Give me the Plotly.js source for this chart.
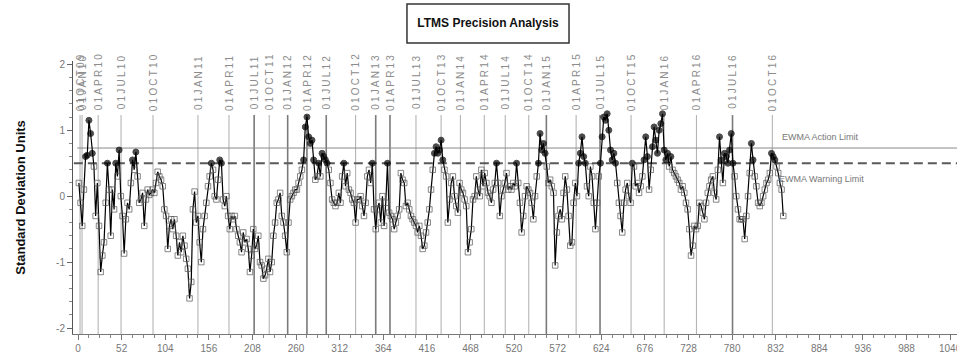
<!DOCTYPE html>
<html>
<head>
<meta charset="utf-8">
<script src="https://cdn.plot.ly/plotly-3.0.1.min.js"></script>
<style>
  html, body { margin: 0; padding: 0; background: #fff; }
  #chart { width: 957px; height: 355px; }
</style>
</head>
<body>
<div id="chart"></div>
<script>
// EWMA of standardized LTMS results, one value for every second test in sequence
const firstTest = 1;
const testStep = 2;
const ewma = [
  0.2,-0.1,-0.45,0.1,0.6,0.62,1.15,0.95,0.65,0.45,-0.3,0.2,-0.45,-1.15,-0.9,-0.7,-0.1,0.5,0.1,-0.6,
  0.1,-0.2,0.5,0.3,0.7,0.0,-0.3,-0.87,-0.35,-0.1,-0.2,0.2,0.55,0.4,0.67,0.3,-0.1,-0.05,0.05,-0.45,
  -0.05,0.1,0.02,0.05,0.1,0.05,0.2,0.37,0.3,0.25,0.15,-0.2,-0.3,-0.8,-0.45,-0.35,-0.5,-0.35,-0.6,-0.9,
  -0.7,-0.85,-0.6,-0.75,-0.95,-1.1,-1.55,-1.3,-0.2,0.07,-0.4,-0.3,-0.7,-1.0,-0.5,-0.3,-0.1,0.15,0.3,0.5,
  0.4,0.0,-0.05,0.25,0.55,0.5,-0.05,-0.15,0.0,-0.3,-0.5,-0.3,-0.35,-0.3,-0.5,-0.6,-0.7,-0.85,-0.55,-0.7,
  -0.65,-0.8,-1.15,-0.9,-0.5,-0.8,-0.75,-0.6,-1.0,-1.05,-1.25,-1.2,-1.1,-0.95,-1.15,-1.0,-0.6,-0.4,-0.1,-0.05,
  0.05,-0.3,-0.4,-0.6,-0.85,-0.4,-0.05,0.0,0.05,0.1,0.1,0.2,0.3,0.4,0.55,1.05,1.2,0.9,0.8,0.85,
  0.55,0.25,0.3,0.5,0.3,0.65,0.6,0.55,0.5,0.4,0.2,-0.05,-0.1,-0.15,-0.1,0.05,-0.1,0.3,0.5,0.15,
  0.35,0.1,0.05,-0.05,-0.1,-0.4,-0.05,-0.05,0.0,-0.15,-0.3,-0.1,0.3,0.4,0.2,0.5,-0.2,-0.5,-0.2,-0.1,
  -0.4,0.0,-0.45,-0.1,0.5,-0.25,-0.3,-0.35,-0.5,-0.4,-0.3,-0.2,0.35,0.25,0.2,-0.15,-0.1,-0.2,-0.3,-0.35,
  -0.4,-0.45,-0.55,-0.45,-0.6,-0.8,-0.75,-0.55,-0.4,-0.2,0.1,0.4,0.65,0.75,0.65,0.7,0.85,0.55,0.4,0.3,
  -0.4,-0.05,0.2,0.3,0.0,-0.15,-0.25,0.2,0.1,0.05,-0.05,-0.15,-0.85,-0.7,-0.5,-0.05,0.0,0.3,0.1,0.0,
  0.4,0.15,0.35,0.2,0.05,0.0,-0.1,0.1,0.2,0.5,0.2,-0.3,0.0,0.1,0.2,0.35,0.1,0.15,0.1,0.2,
  0.15,0.5,0.2,-0.1,-0.55,-0.3,0.0,0.15,0.1,0.05,-0.1,-0.35,0.0,0.3,0.5,0.95,0.7,0.8,0.65,0.45,
  0.2,0.25,0.15,0.05,-1.05,-0.55,-0.3,-0.2,-0.35,0.05,0.3,0.1,-0.3,-0.75,-0.7,-0.1,0.2,0.0,0.5,0.65,
  0.9,0.6,0.5,0.15,0.0,0.45,0.3,-0.1,-0.5,-0.1,0.3,0.5,0.9,1.2,1.15,1.25,1.0,0.7,0.55,0.65,
  0.5,0.2,-0.1,-0.3,-0.55,-0.1,0.1,0.2,0.0,-0.1,0.5,0.45,0.15,0.2,0.05,0.15,0.3,0.55,0.9,0.6,
  0.1,0.4,0.75,1.05,0.85,0.65,1.0,1.1,1.25,0.7,0.55,0.65,0.45,0.6,0.4,0.35,0.3,0.25,0.2,0.1,
  0.15,0.05,-0.1,-0.2,-0.5,-0.9,-0.75,-0.45,-0.5,-0.45,-0.1,-0.15,-0.25,-0.35,-0.1,0.05,0.15,0.25,0.3,0.05,
  -0.05,0.4,0.9,0.55,0.2,0.65,0.6,0.5,0.7,0.95,0.5,0.3,0.0,-0.2,-0.35,-0.35,-0.35,-0.65,-0.3,0.0,
  0.35,0.8,0.55,0.3,0.15,-0.1,-0.15,-0.1,0.0,0.1,0.2,0.25,0.35,0.65,0.6,0.55,0.45,0.35,0.2,0.1,-0.3
];

// Quarter boundaries: label, test number, and whether the line is drawn heavy
const quarterLabels = ["01OCT09","01JAN10","01APR10","01JUL10","01OCT10","01JAN11","01APR11","01JUL11",
  "01OCT11","01JAN12","01APR12","01JUL12","01OCT12","01JAN13","01APR13","01JUL13","01OCT13","01JAN14",
  "01APR14","01JUL14","01OCT14","01JAN15","01APR15","01JUL15","01OCT15","01JAN16","01APR16","01JUL16","01OCT16"];
const quarterTests = [2.4,4.8,24,51.3,89.4,143,180,210,228,250,273,296,331,355,372,403,433,456,484.5,
  509.5,537.5,558.5,594,622.5,659.5,699,737.5,780.5,828];
const quarterHeavy = [0,0,0,0,0,0,0,1,0,1,1,1,0,1,1,0,0,0,0,0,0,1,0,1,0,0,0,1,0];

// Control limits
const actionLimit = 0.73;
const warningLimit = 0.5;
const xTicks = [0,52,104,156,208,260,312,364,416,468,520,572,624,676,728,780,832,884,936,988,1040];
const yTicks = [-2,-1,0,1,2];

const testNo = ewma.map((_, i) => firstTest + i * testStep);
const beyondWarning = ewma.map(v => v >= warningLimit);

const trace = {
  x: testNo,
  y: ewma,
  type: 'scatter',
  mode: 'lines+markers',
  line: { color: '#000', width: 1.2 },
  marker: {
    symbol: beyondWarning.map(b => b ? 'circle' : 'square-open'),
    size: beyondWarning.map(b => b ? 6 : 5.5),
    color: beyondWarning.map(b => b ? '#000' : '#555'),
    line: { width: 1, color: beyondWarning.map(b => b ? '#000' : '#555') }
  },
  hoverinfo: 'x+y'
};

const yBottom = -2.09, yTop = 2.05, lineTop = 1.23;
const shapes = [];
const annotations = [];

quarterTests.forEach((t, i) => {
  shapes.push({
    type: 'line', xref: 'x', yref: 'y', layer: 'below',
    x0: t, x1: t, y0: yBottom, y1: lineTop,
    line: { color: quarterHeavy[i] ? '#7a7a7a' : '#b4b4b4', width: quarterHeavy[i] ? 1.6 : 1.1 }
  });
  annotations.push({
    xref: 'x', yref: 'y', x: t, y: 1.74, text: quarterLabels[i],
    textangle: -90, showarrow: false, xanchor: 'center', yanchor: 'middle',
    font: { family: 'Liberation Sans, Arial, sans-serif', size: 10, color: '#8c8c8c' }
  });
});

// limit lines
shapes.push({
  type: 'line', xref: 'x', yref: 'y', layer: 'below',
  x0: -1, x1: 1048.2, y0: actionLimit, y1: actionLimit,
  line: { color: '#8a8a8a', width: 1 }
});
shapes.push({
  type: 'line', xref: 'x', yref: 'y', layer: 'below',
  x0: -5, x1: 1048.2, y0: warningLimit, y1: warningLimit,
  line: { color: '#5a5a5a', width: 2, dash: '9px,5px' }
});

annotations.push({
  xref: 'x', yref: 'y', x: 837, y: 0.89, text: 'EWMA Action Limit',
  showarrow: false, xanchor: 'left', yanchor: 'middle',
  font: { family: 'Liberation Sans, Arial, sans-serif', size: 9, color: '#777' }
});
annotations.push({
  xref: 'x', yref: 'y', x: 834, y: 0.26, text: 'EWMA Warning Limit',
  showarrow: false, xanchor: 'left', yanchor: 'middle',
  font: { family: 'Liberation Sans, Arial, sans-serif', size: 9, color: '#777' }
});

// framed title
shapes.push({
  type: 'rect', xref: 'paper', yref: 'paper',
  x0: 0.3778, x1: 0.5611, y0: 1.066, y1: 1.2088,
  line: { color: '#333', width: 1.5 }, fillcolor: 'rgba(0,0,0,0)'
});

const tickFont = { family: 'Liberation Sans, Arial, sans-serif', size: 10, color: '#777' };

const layout = {
  width: 957, height: 355,
  margin: { l: 73, r: 0, t: 61, b: 21 },
  paper_bgcolor: '#fff', plot_bgcolor: '#fff',
  showlegend: false,
  title: {
    text: '<b>LTMS Precision Analysis</b>',
    xref: 'paper', x: 0.4695, xanchor: 'center',
    yref: 'container', y: 0.935, yanchor: 'middle',
    font: { family: 'Liberation Sans Narrow, Arial Narrow, Liberation Sans, sans-serif', size: 12, color: '#111' }
  },
  xaxis: {
    range: [-6, 1048.2], tickmode: 'array', tickvals: xTicks, ticktext: xTicks.map(String),
    ticks: 'outside', ticklen: 5, tickcolor: '#777', tickwidth: 1,
    showline: true, linecolor: '#777', linewidth: 1,
    showgrid: false, zeroline: false, tickfont: tickFont,
    ticklabeloverflow: 'allow',
    minor: { dtick: 13, tick0: 0, ticks: 'outside', ticklen: 3, tickcolor: '#888', showgrid: false }
  },
  yaxis: {
    range: [yBottom, yTop], tickmode: 'array', tickvals: yTicks, ticktext: yTicks.map(String),
    ticks: 'outside', ticklen: 5, tickcolor: '#666', tickwidth: 1,
    showline: true, linecolor: '#555', linewidth: 1,
    showgrid: false, zeroline: false, tickfont: tickFont,
    minor: { dtick: 0.2, tick0: 0, ticks: 'outside', ticklen: 3, tickcolor: '#888', showgrid: false },
    title: {
      text: '<b>Standard Deviation Units</b>', standoff: 27,
      font: { family: 'Liberation Sans, Arial, sans-serif', size: 13, color: '#111' }
    }
  },
  shapes: shapes,
  annotations: annotations
};

Plotly.newPlot('chart', [trace], layout, { displayModeBar: false, staticPlot: true }).then(() => {
  // spread out the quarter labels
  document.querySelectorAll('.annotation-text').forEach(el => {
    if (/^01[A-Z]{3}\d\d$/.test(el.textContent)) {
      el.style.letterSpacing = '2.2px';
    }
  });
});
</script>
</body>
</html>
